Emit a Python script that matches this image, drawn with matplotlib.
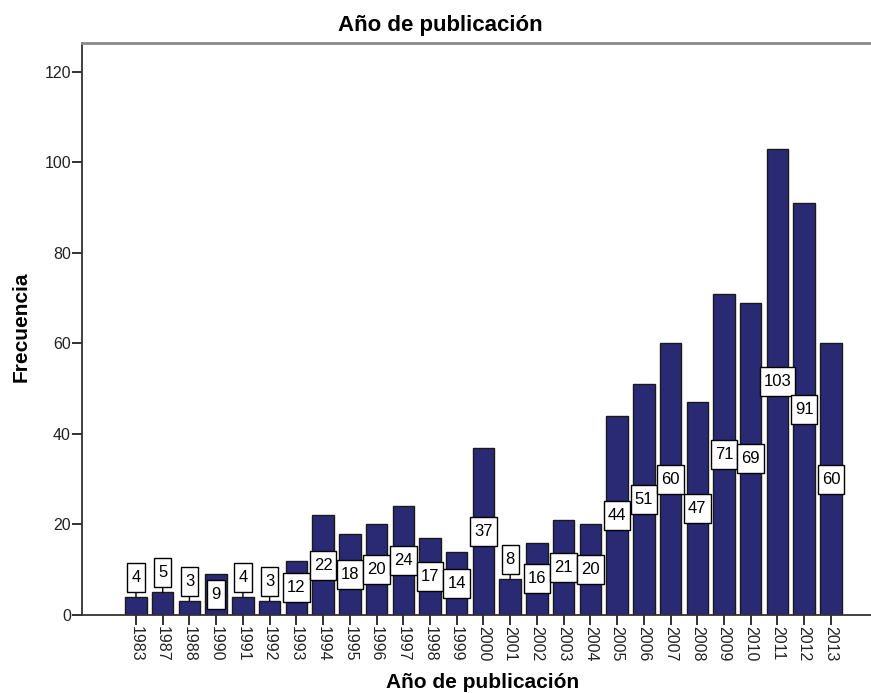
import matplotlib.pyplot as plt
import numpy as np
from matplotlib.path import Path

plt.rcParams['font.family'] = ['Liberation Sans', 'DejaVu Sans']

years = ['1983', '1987', '1988', '1990', '1991', '1992', '1993', '1994', '1995',
         '1996', '1997', '1998', '1999', '2000', '2001', '2002', '2003', '2004',
         '2005', '2006', '2007', '2008', '2009', '2010', '2011', '2012', '2013']
counts = [4, 5, 3, 9, 4, 3, 12, 22, 18, 20, 24, 17, 14, 37, 8, 16, 21, 20,
          44, 51, 60, 47, 71, 69, 103, 91, 60]


def tall_box(x0, y0, width, height, mutation_size):
    # SPSS-like label box: narrow sideways, tall
    px = 0.24 * mutation_size
    py = 0.42 * mutation_size
    x0, y0 = x0 - px, y0 - py
    x1, y1 = x0 + width + 2 * px, y0 + height + 2 * py
    return Path([(x0, y0), (x1, y0), (x1, y1), (x0, y1), (x0, y0)], closed=True)


fig = plt.figure(figsize=(8.71, 6.93), dpi=100)
ax = fig.add_axes([82/871, 1 - 615/693, (871 - 82)/871, (615 - 43)/693])

x = np.arange(len(years))
ax.bar(x, counts, width=0.8, color='#292a73', edgecolor='#1a1a1a', linewidth=1, zorder=2)

box = dict(boxstyle=tall_box, facecolor='white', edgecolor='black', linewidth=1)
for xi, c in zip(x, counts):
    if c >= 9:
        ax.text(xi, c / 2, str(c), ha='center', va='center', fontsize=12,
                bbox=box, zorder=3)
    else:
        ax.annotate(str(c), xy=(xi, c), xytext=(xi, c + 4.3), ha='center', va='center',
                    fontsize=12, bbox=box, zorder=3,
                    arrowprops=dict(arrowstyle='-', color='black', lw=1, shrinkA=0, shrinkB=0))

ax.set_xlim(-2.02, 27.5)
ax.set_ylim(0, 126.4)
ax.set_yticks([0, 20, 40, 60, 80, 100, 120])
ax.set_xticks(x)
ax.set_xticklabels(years, rotation=270)
ax.tick_params(axis='both', labelsize=11.5, length=7, width=1.3, color='#222222',
               labelcolor='#222222', pad=1)

ax.spines['right'].set_visible(False)
ax.spines['top'].set_color('#8a8a8a')
ax.spines['top'].set_linewidth(2)
ax.spines['left'].set_color('#333333')
ax.spines['left'].set_linewidth(1.3)
ax.spines['bottom'].set_color('#333333')
ax.spines['bottom'].set_linewidth(1.3)

fig.text(440/871, 1 - 25/693, 'Año de publicación', ha='center', va='center',
         fontsize=16, fontweight='bold')
fig.text(483/871, 1 - 683/693, 'Año de publicación', ha='center', va='center',
         fontsize=15, fontweight='bold')
fig.text(21/871, 1 - 327/693, 'Frecuencia', ha='center', va='center', rotation=90,
         fontsize=15, fontweight='bold')

fig.savefig('out.png', dpi=100)
